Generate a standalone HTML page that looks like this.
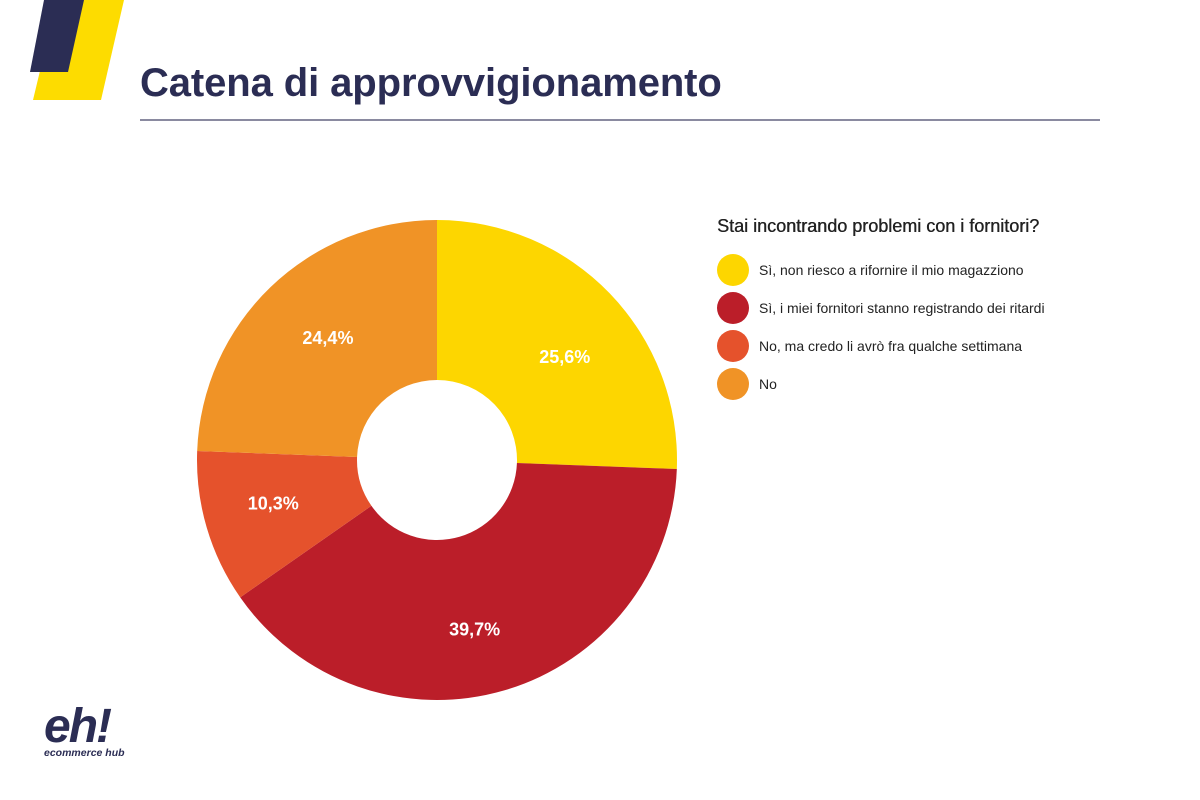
<!DOCTYPE html>
<html><head><meta charset="utf-8"><style>
body{margin:0;width:1200px;height:800px;background:#fff;font-family:"Liberation Sans",sans-serif;position:relative;overflow:hidden}
.t{position:absolute;left:140px;top:61px;font-size:40px;font-weight:bold;color:#2b2d54;letter-spacing:-0.1px}
.rule{position:absolute;left:140px;top:119px;width:960px;height:2px;background:#8a8aa0}
.lt{position:absolute;left:717px;top:216px;font-size:18px;color:#222}
.le{position:absolute;left:717px;height:32px;display:flex;align-items:center;font-size:14px;color:#222}
.dot{width:32px;height:32px;border-radius:50%;margin-right:10px}
</style></head><body>
<svg width="140" height="110" style="position:absolute;left:0;top:0">
<polygon points="57,0 124,0 101,100 33,100" fill="#fddc00"/>
<polygon points="44,0 84,0 68,72 30,72" fill="#2b2d54"/>
</svg>
<div class="t">Catena di approvvigionamento</div>
<div class="rule"></div>
<svg id="pie" width="1200" height="800" style="position:absolute;left:0;top:0"></svg>
<div class="lt" style="text-shadow:0.4px 0 0 #222">Stai incontrando problemi con i fornitori?</div>
<div id="legend"></div>
<div style="position:absolute;left:44px;top:703px;color:#2b2d54;font-weight:bold;font-style:italic">
<div style="font-size:48px;letter-spacing:-2px;line-height:48px">eh!</div>
<div style="font-size:10.5px;margin-top:-4px">ecommerce hub</div></div>
<script>
const categories=["Sì, non riesco a rifornire il mio magazziono","Sì, i miei fornitori stanno registrando dei ritardi","No, ma credo li avrò fra qualche settimana","No"];
const values=[25.6,39.7,10.3,24.4];
const labels=["25,6%","39,7%","10,3%","24,4%"];
const colors=["#fdd600","#bb1e29","#e5522c","#f09326"];
const svg=document.getElementById('pie');const NS="http://www.w3.org/2000/svg";
const cx=437,cy=460,R=240,r=80,LR=168;
const total=values.reduce((a,b)=>a+b,0);
function pt(a,rad){return [cx+rad*Math.sin(a),cy-rad*Math.cos(a)];}
let a0=0;
values.forEach((v,i)=>{
 const a1=a0+v/total*2*Math.PI;const lg=(a1-a0)>Math.PI?1:0;
 const p0=pt(a0,R),p1=pt(a1,R),q1=pt(a1,r),q0=pt(a0,r);
 const p=document.createElementNS(NS,'path');
 p.setAttribute('d',`M${p0}A${R},${R} 0 ${lg} 1 ${p1}L${q1}A${r},${r} 0 ${lg} 0 ${q0}Z`);
 p.setAttribute('fill',colors[i]);
 
 
 svg.appendChild(p);
 const m=pt((a0+a1)/2+0.06,LR);
 const t=document.createElementNS(NS,'text');
 t.setAttribute('x',m[0]);t.setAttribute('y',m[1]+12);t.setAttribute('text-anchor','middle');
 t.setAttribute('fill','#fff');t.setAttribute('font-size','18');t.setAttribute('font-weight','bold');
 t.setAttribute('font-family','Liberation Sans, sans-serif');
 t.textContent=labels[i];
 
 
 svg.appendChild(t);
 a0=a1;
});
const lg=document.getElementById('legend');
categories.forEach((c,i)=>{
 const d=document.createElement('div');d.className='le';d.style.top=(254+i*38)+'px';
 
 
 d.innerHTML=`<span class="dot" style="background:${colors[i]}"></span>${c}`;
 lg.appendChild(d);
});
</script>
</body></html>
